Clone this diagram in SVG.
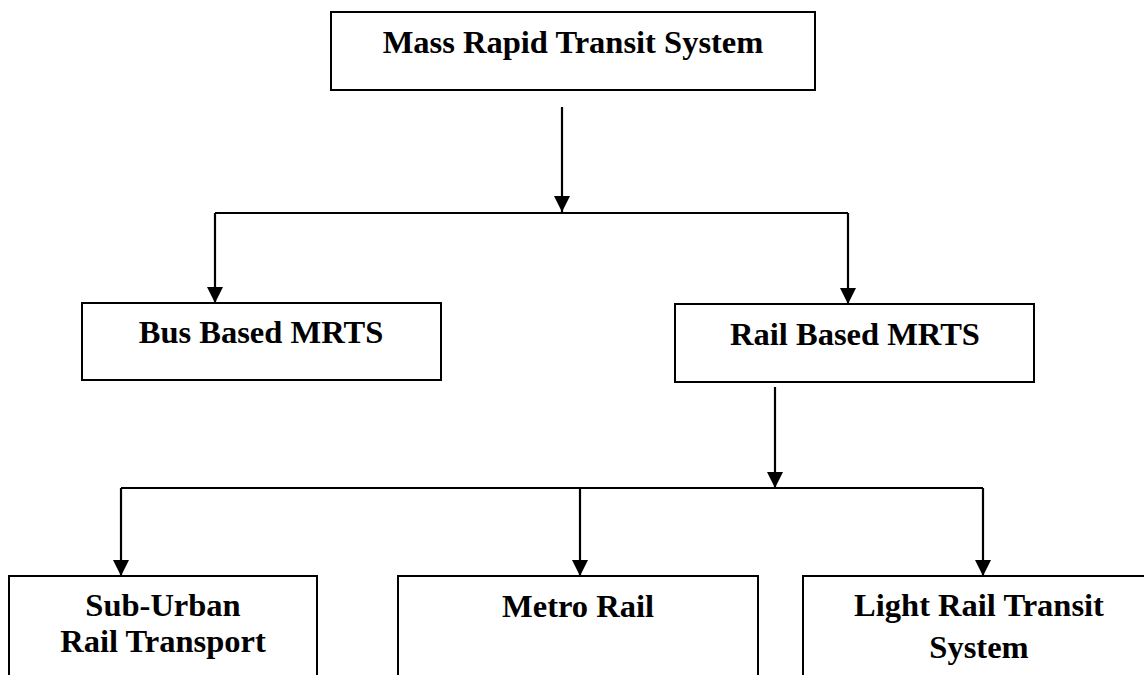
<svg xmlns="http://www.w3.org/2000/svg" width="1144" height="675" viewBox="0 0 1144 675">
<style>
.box{fill:#fff;stroke:#000;stroke-width:2}
.lbl{font-family:"Liberation Serif","Times New Roman",serif;font-weight:bold;font-size:32.5px;fill:#000;text-anchor:middle}
.con{fill:none;stroke:#000;stroke-width:2.2}
</style>
<defs>
<marker id="ah" markerUnits="userSpaceOnUse" markerWidth="18" markerHeight="18" viewBox="0 0 18 18" refX="16" refY="8" orient="auto">
<path d="M0,0 L16,8 L0,16 Z" fill="#000"/>
</marker>
</defs>
<rect width="1144" height="675" fill="#fff"/>
<g id="connectors">
<line class="con" x1="562" y1="107" x2="562" y2="212" marker-end="url(#ah)"/>
<polyline class="con" points="215,213 848,213"/>
<line class="con" x1="215" y1="213" x2="215" y2="303" marker-end="url(#ah)"/>
<line class="con" x1="848" y1="213" x2="848" y2="304" marker-end="url(#ah)"/>
<line class="con" x1="775" y1="387" x2="775" y2="488" marker-end="url(#ah)"/>
<polyline class="con" points="121,488 983,488"/>
<line class="con" x1="121" y1="488" x2="121" y2="576" marker-end="url(#ah)"/>
<line class="con" x1="580" y1="488" x2="580" y2="576" marker-end="url(#ah)"/>
<line class="con" x1="983" y1="488" x2="983" y2="576" marker-end="url(#ah)"/>
</g>
<g id="mrts">
<rect class="box" x="331" y="12" width="484" height="78"/>
<text class="lbl" x="573" y="53">Mass Rapid Transit System</text>
</g>
<g id="bus">
<rect class="box" x="82" y="303" width="359" height="77"/>
<text class="lbl" x="261" y="343">Bus Based MRTS</text>
</g>
<g id="rail">
<rect class="box" x="675" y="304" width="359" height="78"/>
<text class="lbl" x="855" y="345">Rail Based MRTS</text>
</g>
<g id="suburban">
<rect class="box" x="9" y="576" width="308" height="110"/>
<text class="lbl" x="163" y="616">Sub-Urban</text>
<text class="lbl" x="163" y="652">Rail Transport</text>
</g>
<g id="metro">
<rect class="box" x="398" y="576" width="360" height="110"/>
<text class="lbl" x="578" y="617">Metro Rail</text>
</g>
<g id="lrt">
<rect class="box" x="803" y="576" width="360" height="110"/>
<text class="lbl" x="979" y="616">Light Rail Transit</text>
<text class="lbl" x="979" y="658">System</text>
</g>
</svg>
